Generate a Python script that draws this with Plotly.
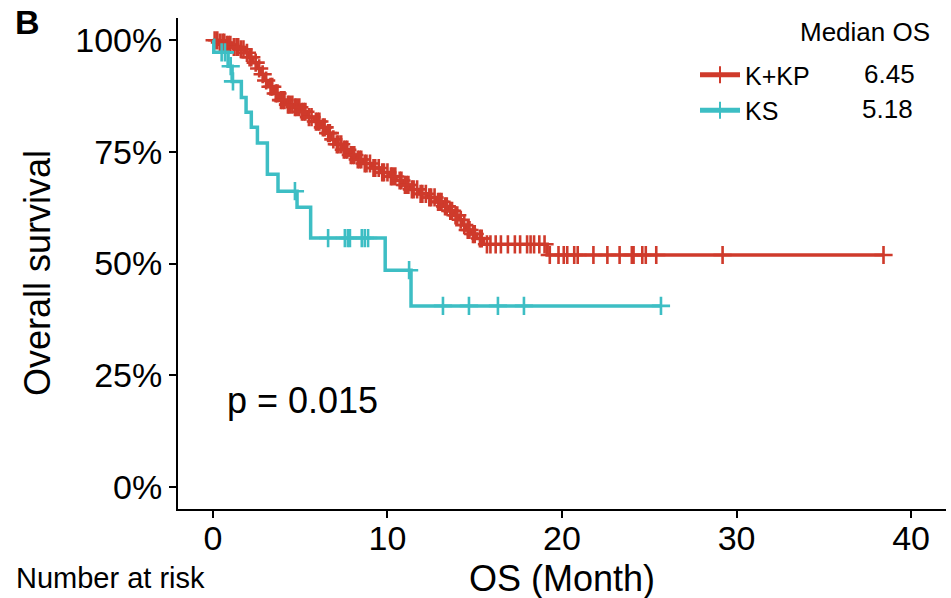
import numpy as np
import plotly.graph_objects as go

# ---------------- data ----------------
group_names = ["K+KP", "KS"]
median_os = ["6.45", "5.18"]

# K+KP Kaplan-Meier steps (months, % surviving)
kkp_times = [0, 0.3, 0.7, 1.1, 1.5, 1.8, 2.05, 2.3, 2.55, 2.75, 2.95, 3.2, 3.5, 3.8,
             4.2, 4.6, 5.0, 5.4, 5.8, 6.2, 6.5, 6.75, 7.0, 7.4, 7.8, 8.2, 8.6, 9.1, 9.6,
             10.1, 10.5, 10.9, 11.3, 11.8, 12.3, 12.8, 13.2, 13.5, 13.8, 14.1, 14.3, 14.5,
             14.8, 15.1, 15.5, 19.15]
kkp_surv = [100, 99.5, 99.0, 98.5, 98.0, 97.2, 96.2, 95.0, 93.7, 92.4, 91.0, 89.6, 88.1, 86.6,
            85.6, 85.0, 84.0, 82.8, 81.8, 80.5, 79.2, 77.8, 76.7, 75.5, 74.3, 73.3, 72.4, 71.4, 70.4,
            69.5, 68.6, 67.6, 66.6, 65.6, 64.8, 63.8, 62.8, 61.8, 60.8, 59.8, 58.6, 57.5,
            56.6, 55.6, 54.3, 51.9]
kkp_censor = [0.1, 0.25, 0.4, 0.55, 0.65, 0.8, 0.9, 1.0, 1.2, 1.35, 1.45, 1.6, 1.75, 1.95,
              2.1, 2.2, 2.45, 2.65, 2.85, 3.05, 3.3, 3.4, 3.6, 3.7, 3.9, 4.0, 4.1, 4.3, 4.4,
              4.55, 4.7, 4.8, 4.95, 5.1, 5.2, 5.3, 5.5, 5.65, 5.9, 6.0, 6.1, 6.3, 6.4, 6.6,
              6.7, 6.9, 7.1, 7.2, 7.35, 7.5, 7.6, 7.7, 7.9, 8.0, 8.1, 8.3, 8.4, 8.5, 8.7, 8.8,
              9.0, 9.2, 9.3, 9.5, 9.7, 9.8, 10.0, 10.2, 10.3, 10.45, 10.7, 10.8, 11.0, 11.1,
              11.2, 11.4, 11.5, 11.7, 11.9, 12.0, 12.2, 12.4, 12.5, 12.7, 12.9, 13.0, 13.1,
              13.3, 13.4, 13.6, 13.7, 13.9, 14.0, 14.2, 14.4, 14.6, 14.7, 14.9, 15.0, 15.3,
              15.4, 15.7, 15.9, 16.2, 16.5, 16.9, 17.3, 17.6, 18.0, 18.2, 18.4, 18.7, 19.0,
              19.3, 19.8, 20.1, 20.3, 20.7, 20.9, 21.8, 22.6, 23.3, 24.0, 24.1, 24.6, 24.8,
              25.4, 29.2, 38.42]
kkp_end = 38.42

# KS Kaplan-Meier steps
ks_times = [0, 0.05, 0.87, 1.1, 1.63, 1.9, 2.2, 2.55, 3.12, 3.73, 4.82, 5.6, 9.87, 11.35]
ks_surv = [100, 97.3, 94.2, 90.8, 87.2, 83.9, 80.5, 77.0, 70.0, 66.2, 62.6, 55.7, 48.5, 40.5]
ks_censor = [0.5, 0.69, 1.02, 1.15, 4.7, 6.6, 7.56, 7.73, 7.85, 8.53, 8.7, 8.89, 11.24,
             13.18, 14.67, 16.33, 17.82, 25.67]
ks_end = 25.67

x_tickvals = [0, 10, 20, 30, 40]
y_tickvals = [0, 25, 50, 75, 100]
y_ticktext = ["0%", "25%", "50%", "75%", "100%"]
p_text = "p = 0.015"

colors = ["#CF3A2B", "#3DBEC4"]
FONT = "Liberation Sans, Arial, Helvetica, sans-serif"

# ---------------- figure ----------------
W, H = 951, 598
ML, MR, MT, MB = 178, 5, 18, 89
PW, PH = W - ML - MR, H - MT - MB


def px_x(px):
    return (px - ML) / PW


def px_y(py):
    return (H - MB - py) / PH


def level_at(times, surv, t):
    t_arr = np.asarray(times)
    s_arr = np.asarray(surv)
    idx = np.searchsorted(t_arr, np.asarray(t), side="right") - 1
    return s_arr[idx]


fig = go.Figure()

series = [
    (kkp_times, kkp_surv, kkp_censor, kkp_end),
    (ks_times, ks_surv, ks_censor, ks_end),
]

for i, (tt, ss, cc, end) in enumerate(series):
    col = colors[i]
    fig.add_trace(go.Scatter(
        x=list(tt) + [end], y=list(ss) + [ss[-1]],
        mode="lines", line=dict(color=col, width=3.5, shape="hv"),
        showlegend=False, hoverinfo="skip"))
    fig.add_trace(go.Scatter(
        x=cc, y=level_at(tt, ss, cc),
        mode="markers",
        marker=dict(symbol="cross-thin", size=13, color=col,
                    line=dict(color=col, width=2.6)),
        showlegend=False, hoverinfo="skip"))

# legend entries
for i, name in enumerate(group_names):
    fig.add_trace(go.Scatter(
        x=[None], y=[None], mode="lines+markers", name=name,
        line=dict(color=colors[i], width=4),
        marker=dict(symbol="cross-thin", size=13, color=colors[i],
                    line=dict(color=colors[i], width=2.6))))

axis_common = dict(
    showline=True, linecolor="black", linewidth=2,
    ticks="outside", ticklen=7, tickwidth=2, tickcolor="black",
    showgrid=False, zeroline=False,
    tickfont=dict(family=FONT, size=34, color="black"),
)

fig.update_layout(
    width=W, height=H,
    margin=dict(l=ML, r=MR, t=MT, b=MB),
    paper_bgcolor="white", plot_bgcolor="white",
    font=dict(family=FONT, color="black"),
    xaxis=dict(range=[-2, 42], tickvals=x_tickvals, ticklabelstandoff=-9, **axis_common),
    yaxis=dict(range=[-5, 105], tickvals=y_tickvals, ticktext=y_ticktext, **axis_common),
    legend=dict(x=px_x(695), y=px_y(52), xanchor="left", yanchor="top",
                font=dict(family=FONT, size=25, color="black"),
                bgcolor="rgba(0,0,0,0)", tracegroupgap=0, itemsizing="constant",
                itemwidth=40),
)

ann = [
    dict(text="Overall survival", x=px_x(37), y=px_y(273), textangle=-90, font_size=36),
    dict(text="OS (Month)", x=px_x(562), y=px_y(578), font_size=36),
    dict(text="Number at risk", x=px_x(14), y=px_y(578), xanchor="left", font_size=29),
    dict(text="<b>B</b>", x=px_x(13), y=px_y(22), xanchor="left", font_size=34),
    dict(text="Median OS", x=px_x(932), y=px_y(32), xanchor="right", font_size=26),
    dict(text=median_os[0], x=px_x(862), y=px_y(74), xanchor="left", font_size=26),
    dict(text=median_os[1], x=px_x(860), y=px_y(109), xanchor="left", font_size=26),
    dict(text=p_text, x=px_x(225), y=px_y(400), xanchor="left", font_size=36),
]
for a in ann:
    fs = a.pop("font_size")
    fig.add_annotation(xref="paper", yref="paper", showarrow=False,
                       xanchor=a.pop("xanchor", "center"), yanchor="middle",
                       font=dict(family=FONT, size=fs, color="black"), **a)

fig.write_html("out.html", config={"displayModeBar": False},
               post_script="document.body.style.margin='0';document.body.style.overflow='hidden';")
